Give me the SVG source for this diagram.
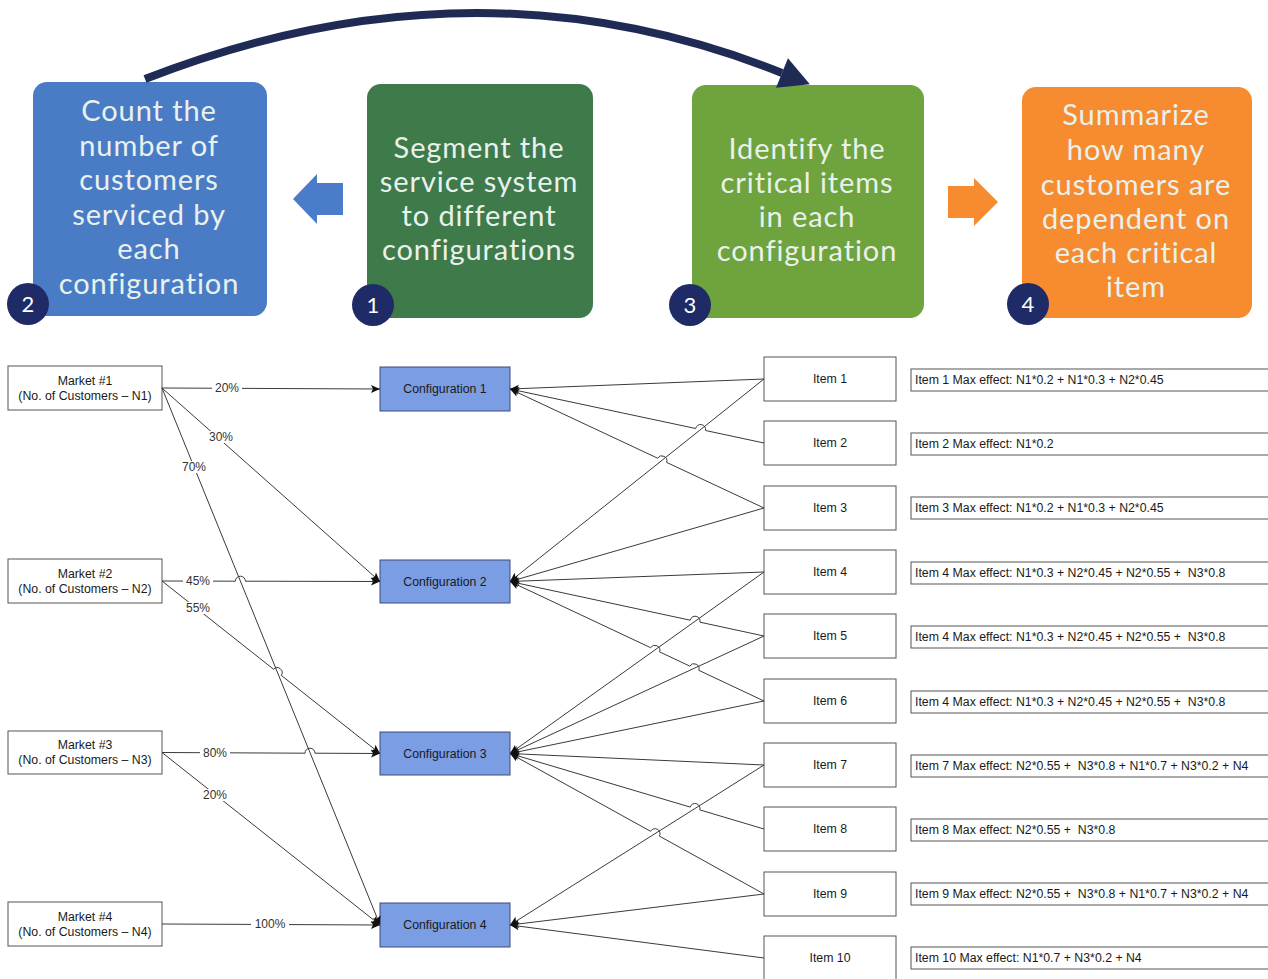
<svg xmlns="http://www.w3.org/2000/svg" width="1268" height="979" viewBox="0 0 1268 979">
<style>
.step{font-family:Lato,"Open Sans","Liberation Sans",sans-serif;font-size:29px;letter-spacing:0.9px;fill:#e9f1ec;text-anchor:middle}
.num{font-family:Lato,"Open Sans","Liberation Sans",sans-serif;font-size:22px;fill:#ffffff;text-anchor:middle}
.badge{fill:#1f2b66}
.t{font-family:"Liberation Sans",Arial,sans-serif;font-size:12.3px;fill:#1a1a1a;text-anchor:middle}
.eff{font-family:"Liberation Sans",Arial,sans-serif;font-size:12.3px;fill:#1a1a1a;white-space:pre}
.box{fill:#ffffff;stroke:#555;stroke-width:1}
.cfg{fill:#7b9de3;stroke:#3c4a78;stroke-width:1}
.ln{fill:none;stroke:#3a3a3a;stroke-width:1}
.lbl{font-family:"Liberation Sans",Arial,sans-serif;font-size:12px;fill:#333;text-anchor:middle}
</style>
<defs>
<marker id="ah" markerUnits="userSpaceOnUse" markerWidth="12" markerHeight="12" viewBox="-10 -6 12 12" refX="0" refY="0" orient="auto">
<path d="M0,0 L-9,-4 L-7,0 L-9,4 z" fill="#111"/>
</marker>
<marker id="bigah" markerUnits="userSpaceOnUse" markerWidth="34" markerHeight="36" viewBox="-2 -18 34 36" refX="0" refY="0" orient="auto">
<path d="M0,-16 L30,0 L0,16 z" fill="#1f2b55"/>
</marker>
</defs>

<g id="step2">
<rect x="33" y="82" width="234" height="234" rx="14" fill="#4a7cc6"/>
<text class="step" x="149" y="121">Count the</text>
<text class="step" x="149" y="156">number of</text>
<text class="step" x="149" y="190">customers</text>
<text class="step" x="149" y="225">serviced by</text>
<text class="step" x="149" y="259">each</text>
<text class="step" x="149" y="294">configuration</text>
<circle class="badge" cx="28" cy="304" r="21"/>
<text class="num" x="28" y="312">2</text>
</g>
<g id="step1">
<rect x="367" y="84" width="226" height="234" rx="14" fill="#3e7a4a"/>
<text class="step" x="479" y="158">Segment the</text>
<text class="step" x="479" y="192">service system</text>
<text class="step" x="479" y="226">to different</text>
<text class="step" x="479" y="260">configurations</text>
<circle class="badge" cx="373" cy="305" r="21"/>
<text class="num" x="373" y="313">1</text>
</g>
<g id="step3">
<rect x="692" y="85" width="232" height="233" rx="14" fill="#6ea33d"/>
<text class="step" x="807" y="159">Identify the</text>
<text class="step" x="807" y="193">critical items</text>
<text class="step" x="807" y="227">in each</text>
<text class="step" x="807" y="261">configuration</text>
<circle class="badge" cx="690" cy="305" r="21"/>
<text class="num" x="690" y="313">3</text>
</g>
<g id="step4">
<rect x="1022" y="87" width="230" height="231" rx="14" fill="#f68b2f"/>
<text class="step" x="1136" y="125">Summarize</text>
<text class="step" x="1136" y="160">how many</text>
<text class="step" x="1136" y="195">customers are</text>
<text class="step" x="1136" y="229">dependent on</text>
<text class="step" x="1136" y="263">each critical</text>
<text class="step" x="1136" y="297">item</text>
<circle class="badge" cx="1028" cy="304" r="21"/>
<text class="num" x="1028" y="312">4</text>
</g>
<g id="flow-arrows">
<polygon points="293,199 317,174 317,183 343,183 343,215 317,215 317,224" fill="#4a7cc9"/>
<polygon points="998,202 974,178 974,186 948,186 948,218 974,218 974,226" fill="#f68b2f"/>
<path d="M145,79 Q475,-50 782,73" fill="none" stroke="#1f2b55" stroke-width="8" marker-end="url(#bigah)"/>
</g>

<g id="markets">
<g id="market1"><rect class="box" x="8" y="366" width="154" height="44"/><text class="t" x="85" y="384.5">Market #1</text><text class="t" x="85" y="399.5">(No. of Customers – N1)</text></g>
<g id="market2"><rect class="box" x="8" y="559" width="154" height="44"/><text class="t" x="85" y="577.5">Market #2</text><text class="t" x="85" y="592.5">(No. of Customers – N2)</text></g>
<g id="market3"><rect class="box" x="8" y="731" width="154" height="43"/><text class="t" x="85" y="749">Market #3</text><text class="t" x="85" y="764">(No. of Customers – N3)</text></g>
<g id="market4"><rect class="box" x="8" y="902" width="154" height="44"/><text class="t" x="85" y="920.5">Market #4</text><text class="t" x="85" y="935.5">(No. of Customers – N4)</text></g>
</g>
<g id="configs">
<g id="config1"><rect class="cfg" x="380" y="367" width="130" height="44"/><text class="t" x="445" y="393.4">Configuration 1</text></g>
<g id="config2"><rect class="cfg" x="380" y="560" width="130" height="43"/><text class="t" x="445" y="585.9">Configuration 2</text></g>
<g id="config3"><rect class="cfg" x="380" y="732" width="130" height="43"/><text class="t" x="445" y="757.9">Configuration 3</text></g>
<g id="config4"><rect class="cfg" x="380" y="903" width="130" height="44"/><text class="t" x="445" y="929.4">Configuration 4</text></g>
</g>
<g id="items">
<g id="item1"><rect class="box" x="764" y="357" width="132" height="44"/><text class="t" x="830" y="383.4">Item 1</text></g>
<g id="item2"><rect class="box" x="764" y="421" width="132" height="44"/><text class="t" x="830" y="447.4">Item 2</text></g>
<g id="item3"><rect class="box" x="764" y="486" width="132" height="44"/><text class="t" x="830" y="512.4">Item 3</text></g>
<g id="item4"><rect class="box" x="764" y="550" width="132" height="44"/><text class="t" x="830" y="576.4">Item 4</text></g>
<g id="item5"><rect class="box" x="764" y="614" width="132" height="44"/><text class="t" x="830" y="640.4">Item 5</text></g>
<g id="item6"><rect class="box" x="764" y="679" width="132" height="44"/><text class="t" x="830" y="705.4">Item 6</text></g>
<g id="item7"><rect class="box" x="764" y="743" width="132" height="44"/><text class="t" x="830" y="769.4">Item 7</text></g>
<g id="item8"><rect class="box" x="764" y="807" width="132" height="44"/><text class="t" x="830" y="833.4">Item 8</text></g>
<g id="item9"><rect class="box" x="764" y="872" width="132" height="44"/><text class="t" x="830" y="898.4">Item 9</text></g>
<g id="item10"><rect class="box" x="764" y="936" width="132" height="44"/><text class="t" x="830" y="962.4">Item 10</text></g>
</g>
<g id="effects">
<g id="effect1"><rect class="box" x="911" y="369" width="360" height="22"/><text class="eff" x="915" y="384.4">Item 1 Max effect: N1*0.2 + N1*0.3 + N2*0.45</text></g>
<g id="effect2"><rect class="box" x="911" y="433" width="360" height="22"/><text class="eff" x="915" y="448.4">Item 2 Max effect: N1*0.2</text></g>
<g id="effect3"><rect class="box" x="911" y="497" width="360" height="22"/><text class="eff" x="915" y="512.4">Item 3 Max effect: N1*0.2 + N1*0.3 + N2*0.45</text></g>
<g id="effect4"><rect class="box" x="911" y="562" width="360" height="22"/><text class="eff" x="915" y="577.4">Item 4 Max effect: N1*0.3 + N2*0.45 + N2*0.55 +  N3*0.8</text></g>
<g id="effect5"><rect class="box" x="911" y="626" width="360" height="22"/><text class="eff" x="915" y="641.4">Item 4 Max effect: N1*0.3 + N2*0.45 + N2*0.55 +  N3*0.8</text></g>
<g id="effect6"><rect class="box" x="911" y="691" width="360" height="22"/><text class="eff" x="915" y="706.4">Item 4 Max effect: N1*0.3 + N2*0.45 + N2*0.55 +  N3*0.8</text></g>
<g id="effect7"><rect class="box" x="911" y="755" width="360" height="22"/><text class="eff" x="915" y="770.4">Item 7 Max effect: N2*0.55 +  N3*0.8 + N1*0.7 + N3*0.2 + N4</text></g>
<g id="effect8"><rect class="box" x="911" y="819" width="360" height="22"/><text class="eff" x="915" y="834.4">Item 8 Max effect: N2*0.55 +  N3*0.8</text></g>
<g id="effect9"><rect class="box" x="911" y="883" width="360" height="22"/><text class="eff" x="915" y="898.4">Item 9 Max effect: N2*0.55 +  N3*0.8 + N1*0.7 + N3*0.2 + N4</text></g>
<g id="effect10"><rect class="box" x="911" y="947" width="360" height="22"/><text class="eff" x="915" y="962.4">Item 10 Max effect: N1*0.7 + N3*0.2 + N4</text></g>
</g>

<g id="connectors">
<path class="ln" d="M162,388 L380,389" marker-end="url(#ah)"/>
<path class="ln" d="M162,388 L380,581.5" marker-end="url(#ah)"/>
<path class="ln" d="M162,388 L380,925" marker-end="url(#ah)"/>
<path class="ln" d="M162,581 L235.4,581.2 A5,5 0 0 1 245.4,581.2 L380,581.5" marker-end="url(#ah)"/>
<path class="ln" d="M162,581 L273.5,669.2 A5,5 0 0 1 281.3,675.4 L380,753.5" marker-end="url(#ah)"/>
<path class="ln" d="M162,752.5 L305,753.2 A5,5 0 0 1 315,753.2 L380,753.5" marker-end="url(#ah)"/>
<path class="ln" d="M162,752.5 L380,925" marker-end="url(#ah)"/>
<path class="ln" d="M162,924 L380,925" marker-end="url(#ah)"/>
<path class="ln" d="M764,379 L510,389" marker-end="url(#ah)"/>
<path class="ln" d="M764,443 L705.5,430.5 A5,5 0 0 0 695.7,428.5 L510,389" marker-end="url(#ah)"/>
<path class="ln" d="M764,508 L666.6,462.4 A5,5 0 0 0 657.6,458.2 L510,389" marker-end="url(#ah)"/>
<path class="ln" d="M764,379 L510,581.5" marker-end="url(#ah)"/>
<path class="ln" d="M764,508 L510,581.5" marker-end="url(#ah)"/>
<path class="ln" d="M764,572 L510,581.5" marker-end="url(#ah)"/>
<path class="ln" d="M764,636 L700,622.2 A5,5 0 0 0 690.2,620.2 L510,581.5" marker-end="url(#ah)"/>
<path class="ln" d="M764,701 L698.8,670.3 A5,5 0 0 0 689.8,666.1 L659.6,651.9 A5,5 0 0 0 650.6,647.7 L510,581.5" marker-end="url(#ah)"/>
<path class="ln" d="M764,572 L510,753.5" marker-end="url(#ah)"/>
<path class="ln" d="M764,636 L510,753.5" marker-end="url(#ah)"/>
<path class="ln" d="M764,701 L510,753.5" marker-end="url(#ah)"/>
<path class="ln" d="M764,765 L510,753.5" marker-end="url(#ah)"/>
<path class="ln" d="M764,829 L699.8,809.9 A5,5 0 0 0 690.2,807.1 L510,753.5" marker-end="url(#ah)"/>
<path class="ln" d="M764,894 L659.4,836.1 A5,5 0 0 0 650.6,831.3 L510,753.5" marker-end="url(#ah)"/>
<path class="ln" d="M764,765 L510,925" marker-end="url(#ah)"/>
<path class="ln" d="M764,894 L510,925" marker-end="url(#ah)"/>
<path class="ln" d="M764,958 L510,925" marker-end="url(#ah)"/>
<g id="labels">
<rect x="212" y="382" width="30" height="12" fill="#fff"/><text class="lbl" x="227" y="392.3">20%</text>
<rect x="206" y="431" width="30" height="12" fill="#fff"/><text class="lbl" x="221" y="441.3">30%</text>
<rect x="179" y="461" width="30" height="12" fill="#fff"/><text class="lbl" x="194" y="471.3">70%</text>
<rect x="183" y="575" width="30" height="12" fill="#fff"/><text class="lbl" x="198" y="585.3">45%</text>
<rect x="183" y="602" width="30" height="12" fill="#fff"/><text class="lbl" x="198" y="612.3">55%</text>
<rect x="200" y="747" width="30" height="12" fill="#fff"/><text class="lbl" x="215" y="757.3">80%</text>
<rect x="200" y="789" width="30" height="12" fill="#fff"/><text class="lbl" x="215" y="799.3">20%</text>
<rect x="251" y="918" width="38" height="12" fill="#fff"/><text class="lbl" x="270" y="928.3">100%</text>
</g>
</g>
</svg>
